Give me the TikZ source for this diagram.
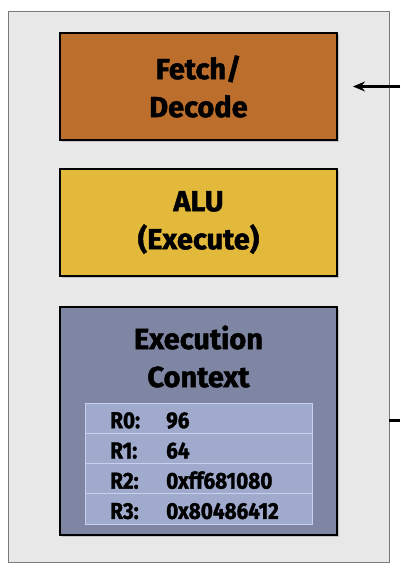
\documentclass[tikz,border=0pt]{standalone}
\usepackage{fontspec}
\setmainfont{Fira Sans}[BoldFeatures={FakeBold=1.6}]
\newfontfamily\regfont{Fira Sans}[FakeStretch=0.9,BoldFeatures={FakeBold=1.5}]
\usetikzlibrary{arrows.meta,positioning,shadows}
\definecolor{corebg}{HTML}{E8E8E8}
\definecolor{coreline}{HTML}{7A7A7A}
\definecolor{fetchcol}{HTML}{BC6E2C}
\definecolor{alucol}{HTML}{E3B93C}
\definecolor{ctxcol}{HTML}{7E86A3}
\definecolor{regcol}{HTML}{A0AACC}
\definecolor{regline}{HTML}{C8D0F0}
\tikzset{
  >={Stealth[length=12pt,width=10pt]},
}

\begin{document}
\begin{tikzpicture}[x=1pt,y=-1pt,font=\bfseries,
      unit/.style={
        minimum width=277pt,
        minimum height=107pt,
        outer sep=0pt,
        draw=black,
        line width=1.2pt,
        align=center,
        font=\fontsize{29}{38}\selectfont\bfseries,
        drop shadow={shadow xshift=2pt,shadow yshift=-2pt,opacity=0.35}
      },
      regrow/.style={
        minimum width=227pt,
        minimum height=30.25pt,
        outer sep=0pt,
        draw=regline,
        fill=regcol,
        line width=0.8pt
      },
      regtext/.style={
        anchor=base west,
        inner sep=0pt,
        font=\fontsize{23}{23}\regfont\bfseries
      }
    ]
      \useasboundingbox (0,0) rectangle (400,570);
      \node [draw=coreline,fill=corebg,line width=1pt,minimum width=381pt,
        minimum height=551pt,outer sep=0pt] at (198.5,286.5) (core) {};

      \node [unit,fill=fetchcol] at (198.5,86.5) (fetch) {Fetch/\\Decode};
      \node [unit,fill=alucol,below=29pt of fetch] (alu) {ALU\\(Execute)};
      \node [unit,fill=ctxcol,minimum height=228pt,below=31pt of alu] (ctx) {};
      \node [font=\fontsize{29}{38}\selectfont\bfseries,align=center,
        below=15pt of ctx.north] (ctxtitle) {Execution\\Context};

      \foreach \reg/\val [count=\i] in {R0/96,R1/64,R2/0xff681080,R3/0x80486412} {
        \node [regrow] at (198.5,{403+30.25*(\i-0.5)}) (reg\i) {};
        \node [regtext] at ([xshift=25pt,yshift=-10pt]reg\i.west) (name\i) {\reg:};
        \node [regtext] at ([xshift=81pt,yshift=-10pt]reg\i.west) (val\i) {\val};
      }

      \coordinate (instream) at (400,86.5);
      \draw [->,line width=2.5pt,shorten >=16pt] (instream) -- (fetch.east);
      \coordinate (outstream) at (400,420);
      \draw [line width=3pt] (core.east |- outstream) -- (outstream);
    \end{tikzpicture}
\end{document}
